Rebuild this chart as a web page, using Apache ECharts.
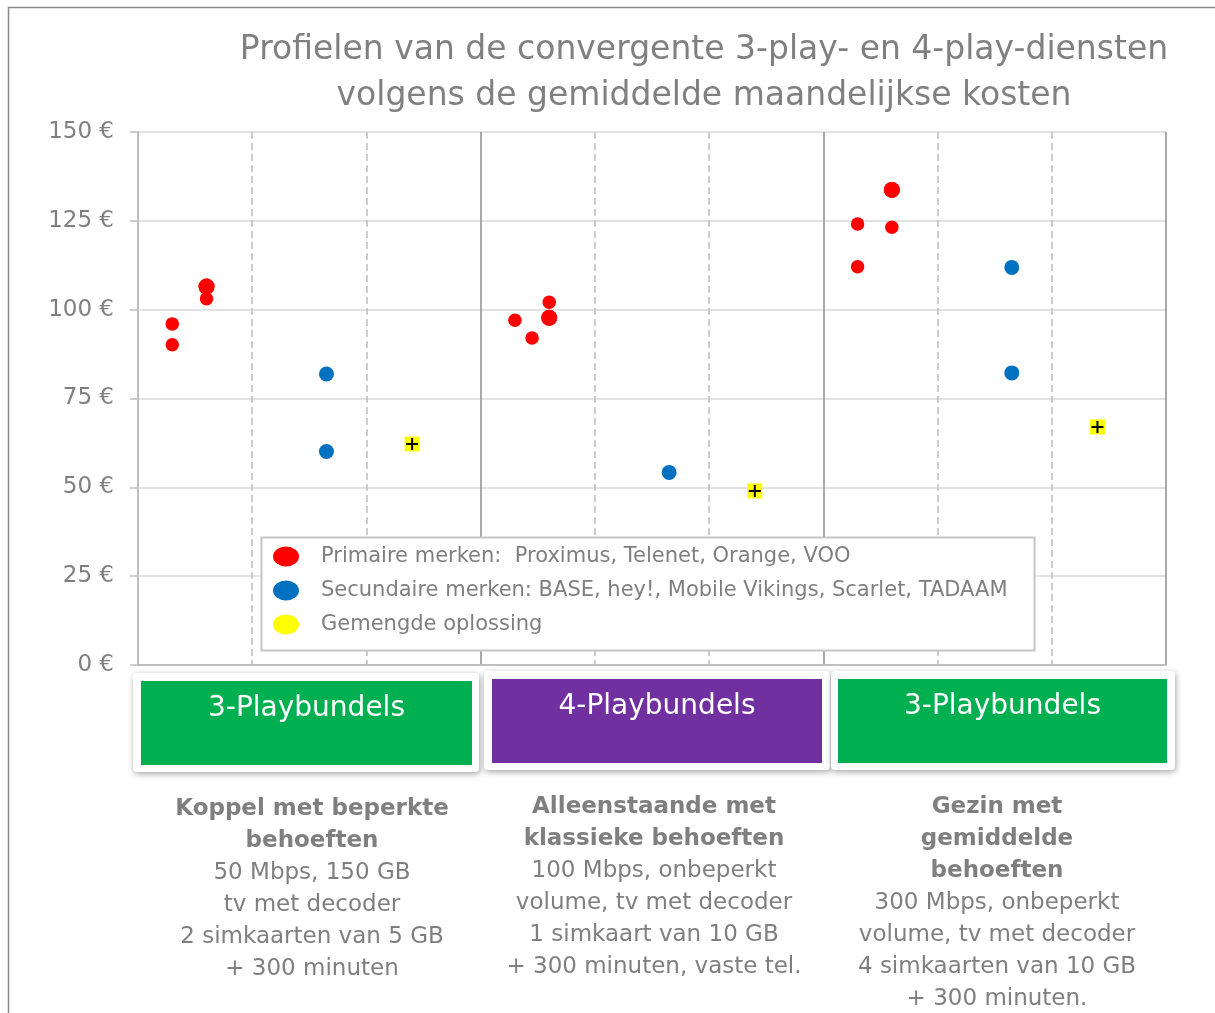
<!DOCTYPE html>
<html><head><meta charset="utf-8">
<script src="https://cdn.jsdelivr.net/npm/echarts@6/dist/echarts.min.js"></script>
<style>html,body{margin:0;padding:0;background:#fff}#c{width:1215px;height:1013px}</style>
</head><body><div id="c"></div><script>
// ---- data ----
const titleLines = ['Profielen van de convergente 3-play- en 4-play-diensten', 'volgens de gemiddelde maandelijkse kosten'];
const yTicks = { min: 0, max: 150, step: 25, unit: '€' };
const seriesNames = [
  'Primaire merken:  Proximus, Telenet, Orange, VOO',
  'Secundaire merken: BASE, hey!, Mobile Vikings, Scarlet, TADAAM',
  'Gemengde oplossing'
];
// x = column position (3 profiles × 3 columns), y = average monthly cost in €
// duplicated points = overlapping brands (drawn bigger)
const primaryPoints = [
  [0.3, 96.0], [0.3, 90.1], [0.6, 106.5], [0.6, 106.5], [0.6, 103.1],
  [3.3, 97.0], [3.45, 92.0], [3.6, 102.1], [3.6, 97.7], [3.6, 97.7],
  [6.3, 124.1], [6.3, 112.1], [6.6, 133.7], [6.6, 133.7], [6.6, 123.2]
];
const secondaryPoints = [[1.65, 81.9], [1.65, 60.1], [4.65, 54.2], [7.65, 111.9], [7.65, 82.2]];
const mixedPoints = [[2.4, 62.2], [5.4, 49.0], [8.4, 67.0]];
const bundles = ['3-Playbundels', '4-Playbundels', '3-Playbundels'];
const profileTitles = [
  ['Koppel met beperkte', 'behoeften'],
  ['Alleenstaande met', 'klassieke behoeften'],
  ['Gezin met', 'gemiddelde', 'behoeften']
];
const profileDetails = [
  ['50 Mbps, 150 GB', 'tv met decoder', '2 simkaarten van 5 GB', '+ 300 minuten'],
  ['100 Mbps, onbeperkt', 'volume, tv met decoder', '1 simkaart van 10 GB', '+ 300 minuten, vaste tel.'],
  ['300 Mbps, onbeperkt', 'volume, tv met decoder', '4 simkaarten van 10 GB', '+ 300 minuten.']
];

// ---- chart ----
const FONT = 'DejaVu Sans';
const GRAY = '#7f7f7f';
const chart = echarts.init(document.getElementById('c'), null, { renderer: 'canvas' });

function dupCount(arr, p) {
  return arr.filter(q => q[0] === p[0] && q[1] === p[1]).length;
}
const T = 'rgba(0,0,0,0)';
const boxColors = ['#00B050', '#7030A0', '#00B050'];
const boxRects = [
  { x: 133, y: 673, w: 346, h: 99, ix: 141, iy: 681, iw: 331, ih: 84 },
  { x: 484, y: 671, w: 346, h: 99, ix: 492, iy: 679, iw: 330, ih: 84 },
  { x: 831, y: 671, w: 344, h: 99, ix: 838, iy: 679, iw: 329, ih: 84 }
];
const descCenters = [312, 654, 997];
const descTops = [793, 791, 791];

const graphics = [
  { type: 'polyline', z: 0, silent: true,
    shape: { points: [[8.5, 1013], [8.5, 7.5], [1215, 7.5]] },
    style: { stroke: '#8a8a8a', lineWidth: 1.5, fill: null } },
  { type: 'rect', z: 3, silent: true,
    shape: { x: 261.5, y: 537.5, width: 773, height: 113 },
    style: { fill: '#fff', stroke: '#c6c6c6', lineWidth: 2 } }
];
bundles.forEach((b, i) => {
  const r = boxRects[i];
  graphics.push({ type: 'rect', z: 3, silent: true,
    shape: { x: r.x, y: r.y, width: r.w, height: r.h, r: 4 },
    style: { fill: '#fff', shadowBlur: 6, shadowColor: 'rgba(0,0,0,0.35)', shadowOffsetY: 2, shadowOffsetX: 1 } });
  graphics.push({ type: 'rect', z: 4, silent: true,
    shape: { x: r.ix, y: r.iy, width: r.iw, height: r.ih },
    style: { fill: boxColors[i] } });
  graphics.push({ type: 'text', z: 5, silent: true,
    x: r.ix + r.iw / 2, y: r.iy + 28,
    style: { text: b, fill: '#fff', font: '28px ' + FONT, align: 'center', verticalAlign: 'middle' } });
  const txt = profileTitles[i].map(s => '{b|' + s + '}').concat(profileDetails[i].map(s => '{n|' + s + '}')).join('\n');
  graphics.push({ type: 'text', z: 5, silent: true,
    x: descCenters[i], y: descTops[i],
    style: { text: txt, align: 'center', verticalAlign: 'top',
      rich: {
        b: { fontFamily: FONT, fontWeight: 'bold', fontSize: 23, lineHeight: 32, fill: GRAY, align: 'center' },
        n: { fontFamily: FONT, fontSize: 23, lineHeight: 32, fill: GRAY, align: 'center' }
      } } });
});

const ellipse = 'path://M0,10a13,10 0 1,0 26,0a13,10 0 1,0 -26,0z';

chart.setOption({
  animation: false,
  backgroundColor: '#fff',
  title: {
    text: titleLines.join('\n'),
    left: 704, top: 27, textAlign: 'center', padding: 0,
    textStyle: { fontFamily: FONT, fontWeight: 'normal', fontSize: 33, lineHeight: 46, color: '#808080' }
  },
  grid: { left: 138, right: 49, top: 132, bottom: 348, containLabel: false },
  legend: {
    orient: 'vertical', left: 273, top: 546, padding: 0, z: 6,
    itemWidth: 26, itemHeight: 21, itemGap: 13,
    data: seriesNames.map(n => ({ name: n, icon: ellipse })),
    textStyle: { fontFamily: FONT, fontSize: 21, color: GRAY, padding: [0, 0, 0, 17] },
    selectedMode: false
  },
  xAxis: [
    { type: 'value', min: 0, max: 9, interval: 1,
      axisLine: { show: true, onZero: false, lineStyle: { color: '#bfbfbf', width: 2 } },
      axisTick: { show: false }, axisLabel: { show: false },
      splitLine: { show: true, lineStyle: { type: [7, 4], width: 1.5,
        color: [T, '#bdbdbd', '#bdbdbd', T, '#bdbdbd', '#bdbdbd', T, '#bdbdbd', '#bdbdbd', T] } } },
    { type: 'value', min: 0, max: 9, interval: 3, position: 'bottom',
      axisLine: { show: false }, axisTick: { show: false }, axisLabel: { show: false },
      splitLine: { show: true, lineStyle: { type: 'solid', width: 1.5, color: [T, '#8c8c8c', '#8c8c8c', '#8c8c8c'] } } }
  ],
  yAxis: {
    type: 'value', min: yTicks.min, max: yTicks.max, interval: yTicks.step,
    axisLine: { show: true, lineStyle: { color: '#bfbfbf', width: 2 } },
    axisTick: { show: true, length: 8, lineStyle: { color: '#bfbfbf', width: 1.5 } },
    axisLabel: { formatter: v => v + ' ' + yTicks.unit, fontFamily: FONT, fontSize: 23, color: GRAY, margin: 24 },
    splitLine: { show: true, lineStyle: { color: '#d9d9d9', width: 1.5 } }
  },
  graphic: graphics,
  series: [
    { name: seriesNames[0], type: 'scatter', data: primaryPoints, z: 5,
      symbolSize: (v) => dupCount(primaryPoints, v) > 1 ? 16 : 13.5,
      itemStyle: { color: '#FF0000', opacity: 1 } },
    { name: seriesNames[1], type: 'scatter', data: secondaryPoints, z: 5, symbolSize: 15,
      itemStyle: { color: '#0070C0', opacity: 1 } },
    { name: seriesNames[2], type: 'scatter', data: mixedPoints, z: 5, symbol: 'rect', symbolSize: 15,
      itemStyle: { color: '#FFFF00', opacity: 1 } },
    { type: 'scatter', data: mixedPoints, z: 6, silent: true,
      symbol: 'path://M5,0L7,0L7,5L12,5L12,7L7,7L7,12L5,12L5,7L0,7L0,5L5,5Z', symbolSize: 12,
      itemStyle: { color: '#000', opacity: 1 } }
  ]
});
</script></body></html>
